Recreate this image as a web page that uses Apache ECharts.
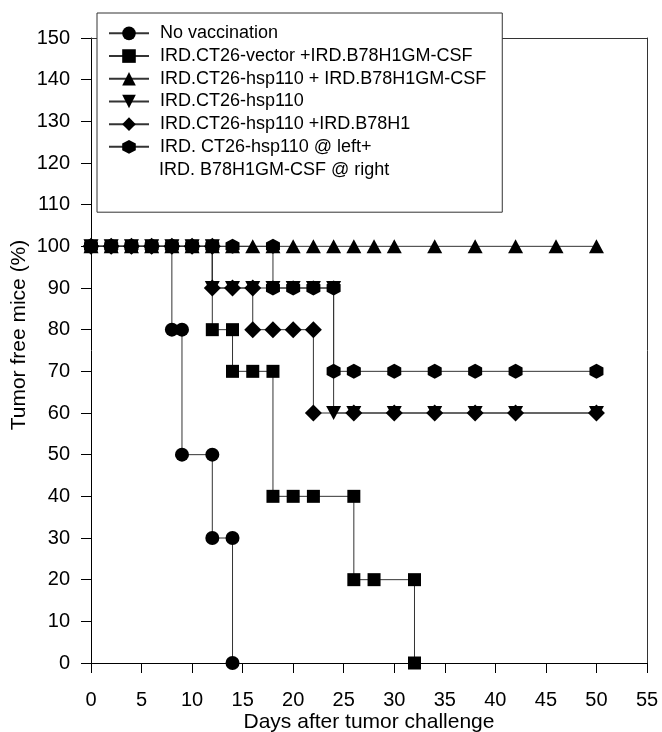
<!DOCTYPE html>
<html>
<head>
<meta charset="utf-8">
<script src="https://cdn.jsdelivr.net/npm/echarts@6/dist/echarts.min.js"></script>
<style>
html,body{margin:0;padding:0;background:#fff;}
#chart{width:662px;height:732px;}
</style>
</head>
<body>
<div id="chart"></div>
<script>
// ---- Data (day, % tumor free) ----
const seriesNames = [
  'No vaccination',
  'IRD.CT26-vector +IRD.B78H1GM-CSF',
  'IRD.CT26-hsp110 + IRD.B78H1GM-CSF',
  'IRD.CT26-hsp110',
  'IRD.CT26-hsp110 +IRD.B78H1',
  'IRD. CT26-hsp110 @ left+'
];
const legendSecondLine = 'IRD. B78H1GM-CSF @ right';

const noVaccination = [[0,100],[2,100],[4,100],[6,100],[8,100],[8,80],[9,80],[9,50],[12,50],[12,30],[14,30],[14,0]];
const vectorGM = [[0,100],[2,100],[4,100],[6,100],[8,100],[10,100],[12,100],[12,80],[14,80],[14,70],[16,70],[18,70],[18,40],[20,40],[22,40],[26,40],[26,20],[28,20],[32,20],[32,0]];
const hspGM = [[0,100],[2,100],[4,100],[6,100],[8,100],[10,100],[12,100],[14,100],[16,100],[18,100],[20,100],[22,100],[24,100],[26,100],[28,100],[30,100],[34,100],[38,100],[42,100],[46,100],[50,100]];
const hspOnly = [[0,100],[2,100],[4,100],[6,100],[8,100],[10,100],[12,100],[12,90],[14,90],[16,90],[18,90],[20,90],[22,90],[24,90],[24,60],[26,60],[30,60],[34,60],[38,60],[42,60],[50,60]];
const hspB78 = [[0,100],[2,100],[4,100],[6,100],[8,100],[10,100],[12,100],[12,90],[14,90],[16,90],[16,80],[18,80],[20,80],[22,80],[22,60],[26,60],[30,60],[34,60],[38,60],[42,60],[50,60]];
const hspLeftGMRight = [[0,100],[2,100],[4,100],[6,100],[8,100],[10,100],[12,100],[14,100],[18,100],[18,90],[20,90],[22,90],[24,90],[24,70],[26,70],[30,70],[34,70],[38,70],[42,70],[50,70]];

const xTicks = {min: 0, max: 55, interval: 5};
const yTicks = {min: 0, max: 150, interval: 10};

// ---- Styles ----
const FONT = 'Liberation Sans, Arial, sans-serif';
const downTri = 'path://M0,0 L10,0 L5,9 Z';
const hexagon = 'path://M5,0 L9.33,2.5 L9.33,7.5 L5,10 L0.67,7.5 L0.67,2.5 Z';
const symbols = [
  {symbol: 'circle', size: 14},
  {symbol: 'rect', size: 13},
  {symbol: 'triangle', size: [15, 14]},
  {symbol: downTri, size: [15, 14]},
  {symbol: 'diamond', size: [17, 17]},
  {symbol: hexagon, size: [14, 15]}
];
const datasets = [noVaccination, vectorGM, hspGM, hspOnly, hspB78, hspLeftGMRight];

const series = datasets.map((d, i) => ({
  name: seriesNames[i],
  type: 'line',
  data: d,
  symbol: symbols[i].symbol,
  symbolSize: symbols[i].size,
  showSymbol: true,
  showAllSymbol: true,
  clip: false,
  itemStyle: {color: '#000'},
  lineStyle: {color: '#333', width: 1},
  emphasis: {disabled: true},
  animation: false,
  xAxisIndex: 0,
  yAxisIndex: 0
}));

const chart = echarts.init(document.getElementById('chart'), null, {renderer: 'canvas'});
chart.setOption({
  backgroundColor: '#fff',
  animation: false,
  textStyle: {fontFamily: FONT},
  grid: {left: 91, right: 15, top: 38, bottom: 69, containLabel: false, outerBoundsMode: 'none'},
  xAxis: [{
    type: 'value',
    min: xTicks.min, max: xTicks.max, interval: xTicks.interval,
    name: 'Days after tumor challenge',
    nameLocation: 'middle',
    nameGap: 49,
    nameMoveOverlap: false,
    nameTextStyle: {fontSize: 21, color: '#000', fontFamily: FONT},
    axisLine: {show: true, onZero: false, lineStyle: {color: '#000', width: 1}},
    axisTick: {show: true, inside: false, length: 10, lineStyle: {color: '#000'}},
    axisLabel: {fontSize: 20, color: '#000', margin: 27, fontFamily: FONT},
    splitLine: {show: false}
  }, {
    type: 'value', position: 'top',
    min: xTicks.min, max: xTicks.max, interval: xTicks.interval,
    axisLine: {show: true, onZero: false, lineStyle: {color: '#333', width: 1}},
    axisTick: {show: false}, axisLabel: {show: false}, splitLine: {show: false}
  }],
  yAxis: [{
    type: 'value',
    min: yTicks.min, max: yTicks.max, interval: yTicks.interval,
    name: 'Tumor free mice (%)',
    nameLocation: 'middle',
    nameGap: 61,
    nameMoveOverlap: false,
    nameTextStyle: {fontSize: 21, color: '#000', fontFamily: FONT, padding: [0, 0, 0, 31]},
    axisLine: {show: true, onZero: false, lineStyle: {color: '#000', width: 1}},
    axisTick: {show: true, inside: false, length: 10, lineStyle: {color: '#000'}},
    axisLabel: {fontSize: 20, color: '#000', margin: 21, fontFamily: FONT},
    splitLine: {show: false}
  }, {
    type: 'value', position: 'right',
    min: yTicks.min, max: yTicks.max, interval: yTicks.interval,
    axisLine: {show: true, onZero: false, lineStyle: {color: '#333', width: 1}},
    axisTick: {show: false}, axisLabel: {show: false}, splitLine: {show: false}
  }],
  legend: {
    show: true,
    orient: 'vertical',
    left: 97,
    top: 13,
    padding: [9, 16, 54, 11],
    itemGap: 0,
    itemWidth: 40,
    itemHeight: 17,
    selectedMode: false,
    backgroundColor: '#fff',
    borderColor: '#333',
    borderWidth: 1,
    z: 10,
    data: seriesNames,
    textStyle: {fontSize: 18, color: '#000', fontFamily: FONT, lineHeight: 22.7, padding: [0, 0, 0, 6]}
  },
  graphic: [{
    type: 'text',
    z: 100,
    x: 159,
    y: 170,
    style: {text: legendSecondLine, fontSize: 18, fontFamily: FONT, fill: '#000', verticalAlign: 'middle', align: 'left'}
  }],
  series: series
});
</script>
</body>
</html>
